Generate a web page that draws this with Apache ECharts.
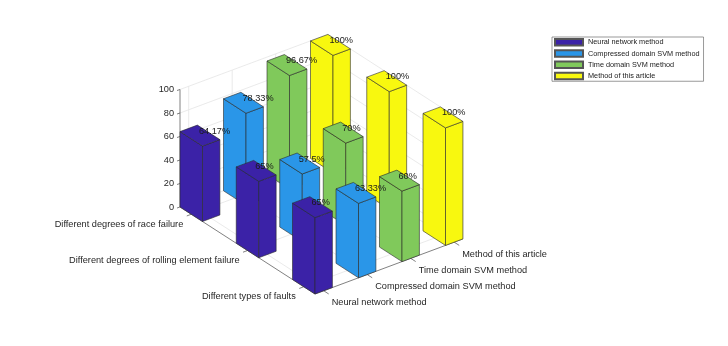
<!DOCTYPE html>
<html>
<head>
<meta charset="utf-8">
<script src="https://cdn.jsdelivr.net/npm/echarts@6/dist/echarts.min.js"></script>
<style>
html, body { margin: 0; padding: 0; background: #fff; }
#chart { width: 728px; height: 346px; }
</style>
</head>
<body>
<div id="chart"></div>
<script>
// categories
var faults = ['Different degrees of race failure', 'Different degrees of rolling element failure', 'Different types of faults'];
var methods = ['Neural network method', 'Compressed domain SVM method', 'Time domain SVM method', 'Method of this article'];
// accuracy (%) per method, one value per fault row
var nnData = [64.17, 65, 65];
var compData = [78.33, 57.5, 63.33];
var timeData = [96.67, 70, 60];
var oursData = [100, 100, 100];
var zTicks = [0, 20, 40, 60, 80, 100];

var colors = ['#3b22a7', '#2a96e8', '#80c95b', '#f8f80f'];
var font = '"Liberation Sans", Arial, sans-serif';

// simple oblique view of the 3d box (fault axis i, method axis j, height z)
var BAR_W = 0.4;
var iLim = [1 - BAR_W / 2, faults.length + BAR_W / 2];
var jLim = [1 - BAR_W / 2, methods.length + BAR_W / 2];
var zLim = [0, 100];
var DI = [56.25, -36.25], DJ = [43.5, 16.2], DZ = 1.175;
function proj(i, j, z) {
    return [(i - iLim[0]) * DI[0] + (j - jLim[0]) * DJ[0],
            (i - iLim[0]) * DI[1] + (j - jLim[0]) * DJ[1] + z * DZ];
}

var chart = echarts.init(document.getElementById('chart'));
var allData = [nnData, compData, timeData, oursData];

function frameItem(params, api) {
    function c(i, j, z) { return api.coord(proj(i, j, z)); }
    var kids = [];
    var gridStyle = { stroke: '#e4e4e4', lineWidth: 0.8 };
    var axisStyle = { stroke: '#4a4a4a', lineWidth: 0.7 };
    function line(a, b, st) {
        kids.push({ type: 'line', shape: { x1: a[0], y1: a[1], x2: b[0], y2: b[1] }, style: st });
    }
    var k;
    // floor grid
    for (k = 1; k <= faults.length; k++) line(c(k, jLim[0], 0), c(k, jLim[1], 0), gridStyle);
    for (k = 1; k <= methods.length; k++) line(c(iLim[0], k, 0), c(iLim[1], k, 0), gridStyle);
    // back walls
    zTicks.forEach(function (z) {
        line(c(iLim[0], jLim[0], z), c(iLim[0], jLim[1], z), gridStyle);
        line(c(iLim[0], jLim[1], z), c(iLim[1], jLim[1], z), gridStyle);
    });
    for (k = 1; k <= methods.length; k++) line(c(iLim[0], k, 0), c(iLim[0], k, zLim[1]), gridStyle);
    for (k = 1; k <= faults.length; k++) line(c(k, jLim[1], 0), c(k, jLim[1], zLim[1]), gridStyle);
    line(c(iLim[0], jLim[1], 0), c(iLim[0], jLim[1], zLim[1]), gridStyle);
    line(c(iLim[1], jLim[1], 0), c(iLim[1], jLim[1], zLim[1]), gridStyle);

    // axes
    line(c(iLim[0], jLim[0], 0), c(iLim[0], jLim[0], zLim[1]), axisStyle);
    line(c(iLim[0], jLim[0], 0), c(iLim[1], jLim[0], 0), axisStyle);
    line(c(iLim[1], jLim[0], 0), c(iLim[1], jLim[1], 0), axisStyle);

    var txt = { fontSize: 9.2, fontFamily: font, fill: '#262626' };
    zTicks.forEach(function (z) {
        var p = c(iLim[0], jLim[0], z);
        line(p, [p[0] - 3, p[1] + 1], axisStyle);
        kids.push({ type: 'text', style: Object.assign({ x: p[0] - 6, y: p[1], text: String(z),
            textAlign: 'right', textVerticalAlign: 'middle' }, txt) });
    });
    faults.forEach(function (name, n) {
        var p = c(n + 1, jLim[0], 0);
        line(p, [p[0] - 4.5, p[1] + 1.7], axisStyle);
        kids.push({ type: 'text', style: Object.assign({ x: p[0] - 8, y: p[1] + 10, text: name,
            textAlign: 'right', textVerticalAlign: 'middle' }, txt) });
    });
    methods.forEach(function (name, n) {
        var p = c(iLim[1], n + 1, 0);
        line(p, [p[0] + 5, p[1] + 3.2], axisStyle);
        kids.push({ type: 'text', style: Object.assign({ x: p[0] + 8, y: p[1] + 12, text: name,
            textAlign: 'left', textVerticalAlign: 'middle' }, txt) });
    });
    return { type: 'group', children: kids };
}

function barItem(m) {
    return function (params, api) {
        var i = api.value(0), h = api.value(1);
        var j = m + 1, w = BAR_W / 2;
        function c(a, b, z) { return api.coord(proj(a, b, z)); }
        var st = { fill: colors[m], stroke: '#2a2a2a', lineWidth: 0.6, lineJoin: 'round' };
        var left = [c(i - w, j - w, 0), c(i + w, j - w, 0), c(i + w, j - w, h), c(i - w, j - w, h)];
        var right = [c(i + w, j - w, 0), c(i + w, j + w, 0), c(i + w, j + w, h), c(i + w, j - w, h)];
        var top = [c(i - w, j - w, h), c(i + w, j - w, h), c(i + w, j + w, h), c(i - w, j + w, h)];
        return {
            type: 'group',
            children: [
                { type: 'polygon', shape: { points: left }, style: st },
                { type: 'polygon', shape: { points: right }, style: st },
                { type: 'polygon', shape: { points: top }, style: st }
            ]
        };
    };
}

function labelItem(params, api) {
    var p = api.coord(proj(api.value(0), api.value(1), api.value(2)));
    return {
        type: 'text',
        style: { x: p[0] - 1, y: p[1] - 4.5, text: api.value(2) + '%', textAlign: 'left',
            textVerticalAlign: 'middle', fontSize: 9.2, fontFamily: font, fill: '#1a1a1a' }
    };
}

var series = [{
    type: 'custom', name: 'frame', silent: true, z: 1,
    renderItem: frameItem, data: [[0, 0]]
}];
// back methods first so nearer bars cover them
for (var m = methods.length - 1; m >= 0; m--) {
    series.push({
        type: 'custom', name: methods[m], z: 2,
        itemStyle: { color: colors[m], borderColor: '#555', borderWidth: 0.3 },
        renderItem: barItem(m),
        data: allData[m].map(function (v, n) { return [n + 1, v]; })
    });
}
var labelData = [];
allData.forEach(function (arr, m) {
    arr.forEach(function (v, n) { labelData.push([n + 1, m + 1, v]); });
});
series.push({ type: 'custom', name: 'labels', silent: true, z: 3, renderItem: labelItem, data: labelData });

chart.setOption({
    animation: false,
    backgroundColor: '#fff',
    grid: { left: 0, right: 0, top: 0, bottom: 0 },
    xAxis: { type: 'value', min: -180, max: 548, show: false },
    yAxis: { type: 'value', min: -139, max: 207, show: false },
    legend: {
        orient: 'vertical',
        left: 552, top: 37,
        padding: [1, 4, 1, 2],
        itemWidth: 28, itemHeight: 6.5, itemGap: 2.75, itemTextGap: 2.5,
        borderColor: '#555', borderWidth: 0.6, backgroundColor: '#fff',
        textStyle: { fontSize: 7.3, lineHeight: 7, fontFamily: font, color: '#1a1a1a' },
        data: methods.map(function (n) { return { name: n, icon: 'rect' }; })
    },
    series: series
});
</script>
</body>
</html>
